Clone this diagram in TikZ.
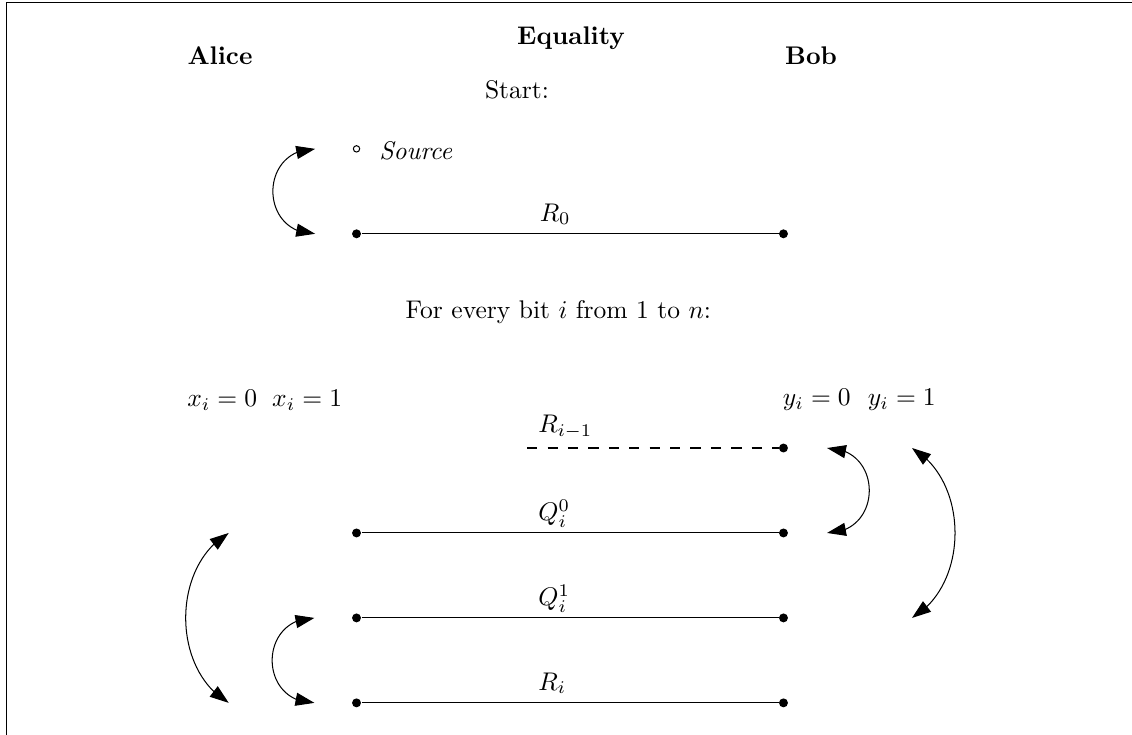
\documentclass[tikz,border=0pt]{standalone}
\usetikzlibrary{arrows.meta, bending}
\tikzset{
  party/.style={font=\bfseries},
  dot/.style={circle, fill, inner sep=0pt, minimum size=3.5pt},
  hollow/.style={circle, draw, inner sep=0pt, minimum size=2.5pt},
  lbl/.style={anchor=west},
  oldwire/.style={dash pattern=on 4pt off 4pt, semithick},
  swap/.style={{Triangle[length=2.6mm, width=1.8mm]}-{Triangle[length=2.6mm, width=1.8mm]}},
}

\begin{document}
\begin{tikzpicture}
  \useasboundingbox (0,0) rectangle (15.59,-10.11);
  \draw (0.09,-10.3) |- (15.8,-0.034);

  \node[party] (alice) at (3.03,-0.77) {Alice};
  \node[party] (title) at (7.865,-0.52) {Equality};
  \node[party] (bob) at (11.17,-0.77) {Bob};

  % start
  \node (start) at (7.12,-1.23) {Start:};
  \node[hollow] (src) at (4.91,-2.05) {};
  \node[lbl] (srclbl) at (5.10,-2.08) {\textit{Source}};
  \node[dot] (r0a) at (4.91,-3.22) {};
  \node[dot] (r0b) at (10.79,-3.22) {};
  \node[lbl] (r0lbl) at (7.31,-2.95) {$R_0$};
  \draw (r0a) -- (r0b);
  \coordinate (s1) at (4.34,-2.05);
  \coordinate (s2) at (4.34,-3.22);
  \draw[swap] (s1) to[out=180, in=180, looseness=1.7] (s2);

  % every bit
  \node (loop) at (7.69,-4.30) {For every bit $i$ from 1 to $n$:};
  \node (x0) at (3.06,-5.51) {$x_i = 0$};
  \node (x1) at (4.23,-5.51) {$x_i = 1$};
  \node (y0) at (11.25,-5.51) {$y_i = 0$};
  \node (y1) at (12.42,-5.51) {$y_i = 1$};

  \coordinate (rpa) at (7.26,-6.17);
  \node[dot] (rpb) at (10.79,-6.17) {};
  \node[lbl] (rplbl) at (7.29,-5.88) {$R_{i-1}$};
  \draw[oldwire] (rpa) -- (rpb);

  \node[dot] (q0a) at (4.91,-7.34) {};
  \node[dot] (q0b) at (10.79,-7.34) {};
  \node[lbl] (q0lbl) at (7.29,-7.07) {$Q_i^0$};
  \draw (q0a) -- (q0b);

  \node[dot] (q1a) at (4.91,-8.51) {};
  \node[dot] (q1b) at (10.79,-8.51) {};
  \node[lbl] (q1lbl) at (7.29,-8.24) {$Q_i^1$};
  \draw (q1a) -- (q1b);

  \node[dot] (ria) at (4.91,-9.68) {};
  \node[dot] (rib) at (10.79,-9.68) {};
  \node[lbl] (rilbl) at (7.29,-9.41) {$R_i$};
  \draw (ria) -- (rib);

  % swaps
  \coordinate (b0t) at (11.39,-6.17);
  \coordinate (b0b) at (11.39,-7.34);
  \coordinate (b1t) at (12.56,-6.17);
  \coordinate (b1b) at (12.56,-8.51);
  \coordinate (a0t) at (3.15,-7.34);
  \coordinate (a0b) at (3.15,-9.68);
  \coordinate (a1t) at (4.33,-8.51);
  \coordinate (a1b) at (4.33,-9.68);
  \draw[swap] (b0t) to[out=0, in=0, looseness=1.7] (b0b);
  \draw[swap] (b1t) to[bend left=60] (b1b);
  \draw[swap] (a0t) to[bend right=60] (a0b);
  \draw[swap] (a1t) to[out=180, in=180, looseness=1.7] (a1b);
\end{tikzpicture}
\end{document}
